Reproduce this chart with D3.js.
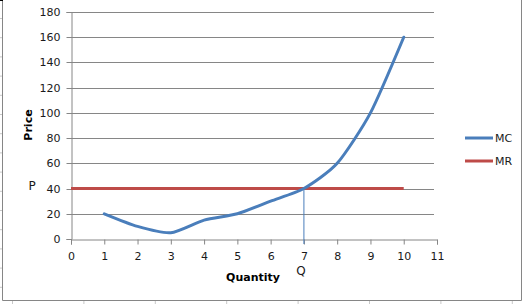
<!DOCTYPE html>
<html>
<head>
<meta charset="utf-8">
<script src="https://cdn.jsdelivr.net/npm/d3@7"></script>
<style>
  body { margin: 0; background: #fff; }
  svg { display: block; font-family: Tahoma, "DejaVu Sans", sans-serif; }
</style>
</head>
<body>
<svg id="chart" width="528" height="304"></svg>
<script>
var quantity = [1, 2, 3, 4, 5, 6, 7, 8, 9, 10];
var mcValues = [20, 10, 5, 15, 20, 30, 40, 60, 100, 160];
var mrQuantity = [0, 1, 2, 3, 4, 5, 6, 7, 8, 9, 10];
var mrValues = [40, 40, 40, 40, 40, 40, 40, 40, 40, 40, 40];
var xTicks = [0, 1, 2, 3, 4, 5, 6, 7, 8, 9, 10, 11];
var yTicks = [0, 20, 40, 60, 80, 100, 120, 140, 160, 180];
var seriesNames = ["MC", "MR"];
var qStar = 7, pStar = 40;

var blue = "#4a7ebb", red = "#be4b48", grid = "#868686";

var svg = d3.select("#chart");

// spreadsheet leftovers around the chart object
var rowTicks = d3.range(18.5, 300, 19.2);
svg.selectAll(".rowtick").data(rowTicks).enter().append("line")
    .attr("x1", 0).attr("x2", 2).attr("y1", d => d).attr("y2", d => d)
    .attr("stroke", "#c8c8c8");
var colTicks = d3.range(12.5, 528, 71.4);
svg.selectAll(".coltick").data(colTicks).enter().append("line")
    .attr("x1", d => d).attr("x2", d => d).attr("y1", 301).attr("y2", 304)
    .attr("stroke", "#c8c8c8");

// chart frame
svg.append("path")
    .attr("d", "M2.5,0 V300.5 H521.5 V0")
    .attr("fill", "none").attr("stroke", grid);
svg.append("line").attr("x1", 0).attr("x2", 3).attr("y1", 0.5).attr("y2", 0.5).attr("stroke", "#000");

var x = d3.scaleLinear().domain([0, 11]).range([71, 437]);
var y = d3.scaleLinear().domain([0, 180]).range([239, 12]);

// gridlines
svg.append("g").selectAll("line").data(yTicks.filter(d => d > 0)).enter().append("line")
    .attr("x1", x(0)).attr("x2", 434)
    .attr("y1", d => Math.round(y(d)) + 0.5).attr("y2", d => Math.round(y(d)) + 0.5)
    .attr("stroke", grid);

// y axis
var yAxis = svg.append("g").attr("transform", "translate(" + (x(0) + 0.5) + ",0)")
    .call(d3.axisLeft(y).tickValues(yTicks).tickSize(5).tickPadding(6));
yAxis.select(".domain").attr("stroke", grid);
yAxis.selectAll(".tick").attr("transform", d => "translate(0," + (Math.round(y(d)) + 0.5) + ")");
yAxis.selectAll(".tick line").attr("stroke", grid);
yAxis.selectAll(".tick text").attr("font-size", 11).attr("fill", "#1a1a1a")
    .attr("font-family", "Tahoma, 'DejaVu Sans', sans-serif");

// x axis
var xAxis = svg.append("g").attr("transform", "translate(0," + (y(0) + 0.5) + ")")
    .call(d3.axisBottom(x).tickValues(xTicks).tickSize(5).tickPadding(8));
xAxis.select(".domain").attr("stroke", grid);
xAxis.selectAll(".tick line").attr("stroke", grid);
xAxis.selectAll(".tick text").attr("font-size", 11).attr("fill", "#1a1a1a")
    .attr("font-family", "Tahoma, 'DejaVu Sans', sans-serif");

// Q drop line
svg.append("line")
    .attr("x1", x(qStar)).attr("x2", x(qStar))
    .attr("y1", y(pStar)).attr("y2", y(0) + 5)
    .attr("stroke", blue).attr("stroke-width", 1);

// series
svg.append("path")
    .datum(mrQuantity.map((q, i) => [q, mrValues[i]]))
    .attr("d", d3.line().x(d => x(d[0])).y(d => y(d[1])))
    .attr("fill", "none").attr("stroke", red).attr("stroke-width", 3);
svg.append("path")
    .datum(quantity.map((q, i) => [q, mcValues[i]]))
    .attr("d", d3.line().x(d => x(d[0])).y(d => y(d[1])).curve(d3.curveCardinal.tension(0.33)))
    .attr("fill", "none").attr("stroke", blue).attr("stroke-width", 3)
    .attr("stroke-linecap", "round");

// axis titles and labels
svg.append("text").attr("x", 253).attr("y", 281).attr("text-anchor", "middle")
    .attr("font-size", 11).attr("font-weight", "bold").text("Quantity");
svg.append("text").attr("transform", "translate(32,125) rotate(-90)")
    .attr("text-anchor", "middle").attr("font-size", 11).attr("font-weight", "bold").text("Price");
svg.append("text").attr("x", 32).attr("y", 190).attr("text-anchor", "middle")
    .attr("font-size", 12).attr("fill", "#1a1a1a").text("P");
svg.append("text").attr("x", x(qStar) - 3).attr("y", 275).attr("text-anchor", "middle")
    .attr("font-size", 12).attr("fill", "#1a1a1a").text("Q");

// legend
var legend = svg.append("g").selectAll("g").data(seriesNames).enter().append("g")
    .attr("transform", (d, i) => "translate(465," + (138 + i * 23) + ")");
legend.append("line").attr("x1", 0).attr("x2", 28).attr("y1", 0).attr("y2", 0)
    .attr("stroke", (d, i) => i === 0 ? blue : red).attr("stroke-width", 3);
legend.append("text").attr("x", 30).attr("y", 4).attr("font-size", 11)
    .attr("fill", "#1a1a1a").text(d => d);
</script>
</body>
</html>
